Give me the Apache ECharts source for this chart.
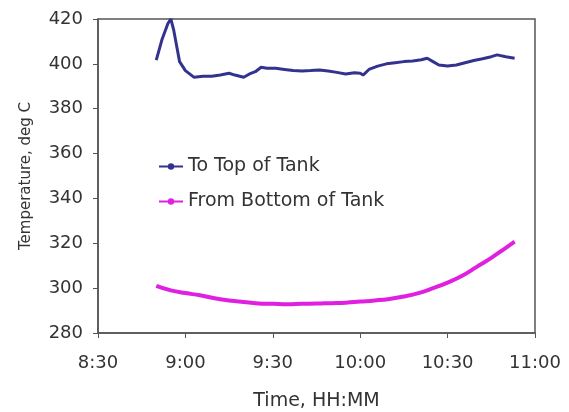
<!DOCTYPE html>
<html>
<head>
<meta charset="utf-8">
<script src="https://cdn.jsdelivr.net/npm/echarts@6/dist/echarts.min.js"></script>
<style>
  html, body { margin: 0; padding: 0; background: #fff; }
  #chart { width: 569px; height: 412px; }
</style>
</head>
<body>
<div id="chart"></div>
<script>
// x tick labels (value axis in minutes since midnight)
const xTicks = ['8:30', '9:00', '9:30', '10:00', '10:30', '11:00']
const yTicks = [280, 300, 320, 340, 360, 380, 400, 420]

// To Top of Tank
const topTimes = ['8:50', '8:52', '8:54', '8:55', '8:56', '8:57', '8:58', '9:00', '9:02', '9:03',
  '9:06', '9:09', '9:12', '9:15', '9:17', '9:20', '9:22', '9:24', '9:26', '9:28',
  '9:31', '9:34', '9:37', '9:40', '9:43', '9:46', '9:49', '9:52', '9:55', '9:58',
  '10:00', '10:01', '10:03', '10:06', '10:09', '10:12', '10:15', '10:18', '10:21', '10:23',
  '10:25', '10:27', '10:30', '10:33', '10:36', '10:39', '10:42', '10:45', '10:47', '10:50', '10:53']
const topTemps = [401.7, 411, 418, 420, 415, 408, 401, 397, 395, 394,
  394.5, 394.5, 395, 395.8, 395, 394, 395.5, 396.5, 398.5, 398,
  398, 397.5, 397, 396.8, 397, 397.3, 396.8, 396.2, 395.5, 396,
  395.8, 395, 397.5, 399, 400, 400.5, 401, 401.3, 401.8, 402.5,
  401, 399.5, 399, 399.5, 400.5, 401.5, 402.3, 403.2, 404, 403.2, 402.5]

// From Bottom of Tank
const bottomTimes = ['8:50', '8:55', '9:00', '9:05', '9:10', '9:15', '9:20', '9:25', '9:30', '9:35',
  '9:40', '9:45', '9:50', '9:55', '10:00', '10:05', '10:10', '10:15', '10:20', '10:25',
  '10:30', '10:35', '10:40', '10:45', '10:50', '10:53']
const bottomTemps = [301, 299, 297.8, 296.8, 295.5, 294.5, 293.8, 293.2, 293, 292.8,
  293, 293.1, 293.3, 293.5, 294, 294.5, 295.2, 296.3, 297.8, 300,
  302.5, 305.5, 309.5, 313.5, 318, 320.7]

function toMin(s) {
  const p = s.split(':')
  return +p[0] * 60 + +p[1]
}
function fmtMin(v) {
  const h = Math.floor(v / 60)
  const m = Math.round(v % 60)
  return h + ':' + (m < 10 ? '0' + m : m)
}
function pairs(times, vals) {
  return times.map((t, i) => [toMin(t), vals[i]])
}

const font = 'DejaVu Sans'
const chart = echarts.init(document.getElementById('chart'))
chart.setOption({
  animation: false,
  backgroundColor: '#fff',
  textStyle: { fontFamily: font },
  grid: {
    left: 98,
    right: 34,
    top: 19,
    bottom: 79,
    containLabel: false,
    outerBoundsMode: 'none',
    show: true,
    borderColor: '#555',
    borderWidth: 1.5,
  },
  legend: {
    orient: 'vertical',
    left: 153,
    top: 152,
    itemWidth: 24,
    itemHeight: 8,
    itemGap: 16,
    textStyle: { fontFamily: font, fontSize: 19, color: '#333' },
    data: ['To Top of Tank', 'From Bottom of Tank'],
  },
  xAxis: {
    type: 'value',
    min: toMin(xTicks[0]),
    max: toMin(xTicks[xTicks.length - 1]),
    interval: 30,
    name: 'Time, HH:MM',
    nameLocation: 'middle',
    nameGap: 59,
    nameTextStyle: { fontFamily: font, fontSize: 19, color: '#333' },
    axisLine: { show: true, lineStyle: { color: '#555', width: 1.5 } },
    axisTick: { show: true, length: 5, lineStyle: { color: '#555' } },
    splitLine: { show: false },
    axisLabel: {
      margin: 21,
      fontFamily: font,
      fontSize: 18,
      color: '#333',
      formatter: fmtMin,
    },
  },
  yAxis: {
    type: 'value',
    min: yTicks[0],
    max: yTicks[yTicks.length - 1],
    interval: 20,
    name: 'Temperature, deg C',
    nameLocation: 'middle',
    nameGap: 64,
    nameTextStyle: { fontFamily: font, fontSize: 15, color: '#333' },
    axisLine: { show: true, lineStyle: { color: '#555', width: 1.5 } },
    axisTick: { show: true, length: 5, lineStyle: { color: '#555' } },
    splitLine: { show: false },
    axisLabel: { margin: 15, fontFamily: font, fontSize: 18, color: '#333' },
  },
  series: [
    {
      name: 'To Top of Tank',
      type: 'line',
      data: pairs(topTimes, topTemps),
      symbol: 'circle',
      symbolSize: 4,
      showSymbol: false,
      color: '#33338f',
      lineStyle: { width: 3, color: '#33338f' },
    },
    {
      name: 'From Bottom of Tank',
      type: 'line',
      data: pairs(bottomTimes, bottomTemps),
      smooth: true,
      symbol: 'circle',
      symbolSize: 4,
      showSymbol: false,
      color: '#e020e0',
      lineStyle: { width: 4, color: '#e020e0' },
    },
  ],
})
</script>
</body>
</html>
